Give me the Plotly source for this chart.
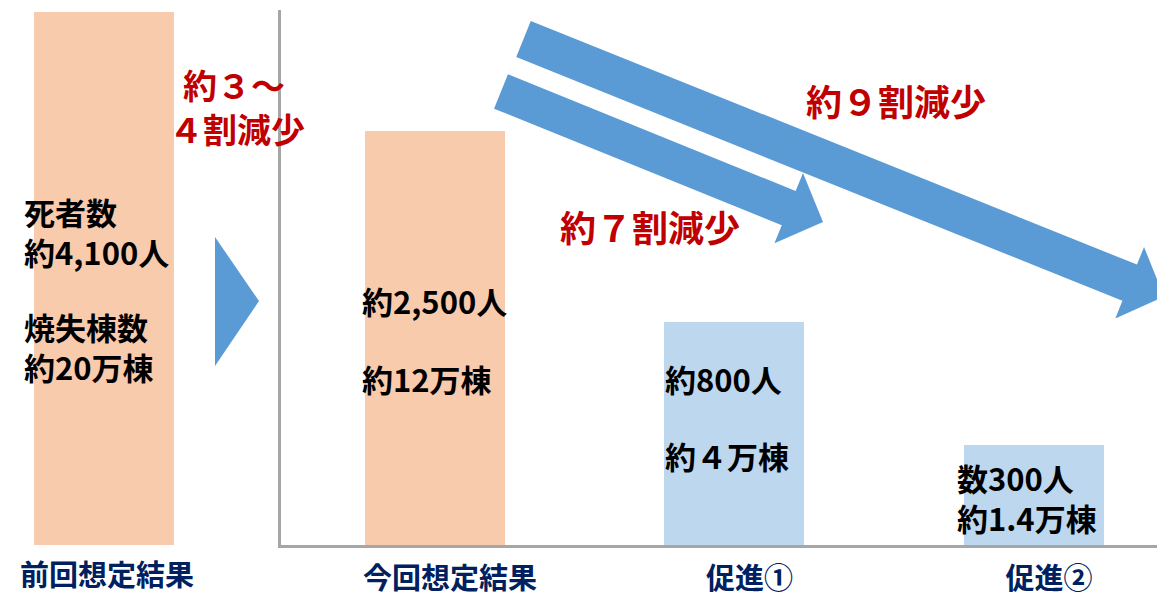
import plotly.graph_objects as go

W, H = 1157, 600

# ---- data ----
prev_case = ["前回想定結果"]
prev_scale = [100]                      # relative size of the earlier estimate
cases = ["今回想定結果", "促進①", "促進②"]
case_scale = [77.7, 41.8, 18.8]          # relative size, same scale as above

prev_deaths = ["死者数", "約4,100人"]
prev_buildings = ["焼失棟数", "約20万棟"]
deaths = ["約2,500人", "約800人", "数300人"]
buildings = ["約12万棟", "約４万棟", "約1.4万棟"]

cut_3_4 = ["約３～", "４割減少"]
cut_7 = "約７割減少"
cut_9 = "約９割減少"

# ---- styles ----
FONT = "Noto Sans CJK JP, Noto Sans CJK SC, sans-serif"
ORANGE = "#F8CBAD"
LIGHT_BLUE = "#BDD7EE"
ARROW_BLUE = "#5B9BD5"
RED = "#C00000"
NAVY = "#002060"
AXIS_GREY = "#A6A6A6"
case_colors = [ORANGE, LIGHT_BLUE, LIGHT_BLUE]


def px(x):
    return x / W


def py(y):
    return 1 - y / H


fig = go.Figure()

fig.add_trace(go.Bar(
    x=prev_case, y=prev_scale, xaxis="x2", yaxis="y",
    marker=dict(color=ORANGE, line=dict(width=0)), width=0.498,
    hoverinfo="skip", showlegend=False,
))
fig.add_trace(go.Bar(
    x=cases, y=case_scale, xaxis="x", yaxis="y",
    marker=dict(color=case_colors, line=dict(width=0)), width=0.4674,
    hoverinfo="skip", showlegend=False,
))

x_split = 281 / W
tick_font = dict(family=FONT, size=29, color=NAVY)

fig.update_layout(
    width=W, height=H,
    margin=dict(l=0, r=0, t=0, b=0),
    paper_bgcolor="white", plot_bgcolor="rgba(0,0,0,0)",
    bargap=0,
    xaxis=dict(
        domain=[x_split, 1], range=[-0.514, 2.411], type="category",
        showline=True, linecolor=AXIS_GREY, linewidth=3,
        showgrid=False, zeroline=False, ticks="", automargin=False,
        tickfont=tick_font, ticklabelshift=15, ticklabelstandoff=6,
        tickvals=cases, ticktext=[f"<b>{c}</b>" for c in cases],
        anchor="y",
    ),
    xaxis2=dict(
        domain=[0, x_split], range=[-0.370, 0.630], type="category",
        showline=False, showgrid=False, zeroline=False, ticks="",
        automargin=False,
        tickfont=tick_font, ticklabelshift=3, ticklabelstandoff=11,
        tickvals=prev_case, ticktext=[f"<b>{c}</b>" for c in prev_case],
        anchor="y",
    ),
    yaxis=dict(
        domain=[55 / H, 590 / H], range=[0, 100.4],
        showline=True, linecolor=AXIS_GREY, linewidth=3,
        showgrid=False, zeroline=False, showticklabels=False, ticks="",
        automargin=False, anchor="x",
    ),
)


def arrow_path(x0, y0, x1, y1, shaft, head_w, head_l):
    """Block arrow from tail centre (x0, y0) to tip (x1, y1), in pixels."""
    dx, dy = x1 - x0, y1 - y0
    L = (dx * dx + dy * dy) ** 0.5
    ux, uy = dx / L, dy / L
    nx, ny = -uy, ux
    bx, by = x1 - ux * head_l, y1 - uy * head_l
    pts = [
        (x0 - nx * shaft / 2, y0 - ny * shaft / 2),
        (bx - nx * shaft / 2, by - ny * shaft / 2),
        (bx - nx * head_w / 2, by - ny * head_w / 2),
        (x1, y1),
        (bx + nx * head_w / 2, by + ny * head_w / 2),
        (bx + nx * shaft / 2, by + ny * shaft / 2),
        (x0 + nx * shaft / 2, y0 + ny * shaft / 2),
    ]
    return "M " + " L ".join(f"{px(a):.5f},{py(b):.5f}" for a, b in pts) + " Z"


shape_style = dict(type="path", xref="paper", yref="paper",
                   fillcolor=ARROW_BLUE, line=dict(width=0), layer="above")
fig.add_shape(path=arrow_path(501, 91.5, 823, 222, 37, 76, 37), **shape_style)
fig.add_shape(path=arrow_path(523.5, 39, 1164, 296.5, 39, 77, 37), **shape_style)
# transition marker between the two estimates
fig.add_shape(
    path=f"M {px(215)},{py(237)} L {px(259)},{py(301)} L {px(215)},{py(366)} Z",
    **shape_style,
)


def label(lines, x, y, size, color, anchor="left"):
    if isinstance(lines, str):
        lines = [lines]
    fig.add_annotation(
        text="<br>".join(f"<b>{t}</b>" for t in lines),
        x=px(x), y=py(y), xref="paper", yref="paper",
        xanchor=anchor, yanchor="middle", align=anchor, showarrow=False,
        font=dict(family=FONT, size=size, color=color),
    )


# figures inside the bars
label(prev_deaths, 22, 231, 31, "black")
label(prev_buildings, 22, 346, 31, "black")
label(deaths[0], 360, 300, 31, "black")
label(buildings[0], 360, 378, 31, "black")
label(deaths[1], 663, 378, 31, "black")
label(buildings[1], 663, 455, 31, "black")
label([deaths[2], buildings[2]], 955, 497, 31, "black")

# reduction captions
label(cut_3_4[0], 234, 84, 34, RED, anchor="center")
label(cut_3_4[1], 237, 129, 34, RED, anchor="center")
label(cut_7, 650, 226, 36, RED, anchor="center")
label(cut_9, 896, 100, 36, RED, anchor="center")

fig.write_html("out.html")
